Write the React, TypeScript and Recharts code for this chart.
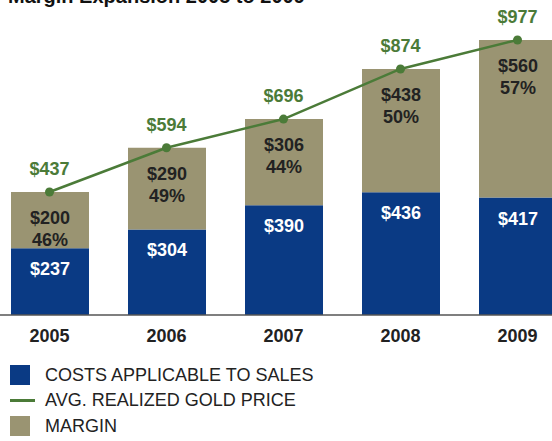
import { Bar, ComposedChart, LabelList, Line, XAxis, YAxis } from 'recharts';

const years = ['2005', '2006', '2007', '2008', '2009'];
const costs = [237, 304, 390, 436, 417];
const margins = [200, 290, 306, 438, 560];
const marginPct = [46, 49, 44, 50, 57];
const goldPrice = [437, 594, 696, 874, 977];

const BLUE = '#0a3a84';
const TAN = '#9a9472';
const GREEN = '#4b7b38';
const FONT = '"Liberation Sans", Arial, Helvetica, sans-serif';

const data = years.map((year, i) => ({
  year,
  costs: costs[i],
  margin: margins[i],
  pct: marginPct[i],
  gold: goldPrice[i],
}));

const CostLabel = (props: any) => {
  const { x, y, width, value } = props;
  return (
    <text x={x + width / 2} y={y + 27} textAnchor="middle" fill="#fff" fontSize={18} fontWeight="bold" fontFamily={FONT}>
      ${value}
    </text>
  );
};

const MarginLabel = (props: any) => {
  const { x, y, width, value, index } = props;
  return (
    <text textAnchor="middle" fill="#222" fontSize={18} fontWeight="bold" fontFamily={FONT}>
      <tspan x={x + width / 2} y={y + 32}>${value}</tspan>
      <tspan x={x + width / 2} y={y + 54}>{marginPct[index]}%</tspan>
    </text>
  );
};

const GoldLabel = (props: any) => {
  const { x, y, value } = props;
  return (
    <text x={x} y={y - 17} textAnchor="middle" fill={GREEN} fontSize={18} fontWeight="bold" fontFamily={FONT}>
      ${value}
    </text>
  );
};

const legendItems = [
  { label: 'COSTS APPLICABLE TO SALES', type: 'square', color: BLUE },
  { label: 'AVG. REALIZED GOLD PRICE', type: 'line', color: GREEN },
  { label: 'MARGIN', type: 'square', color: TAN },
];

export default function App() {
  return (
    <div style={{ position: 'absolute', left: 0, top: 0, width: 552, height: 441, overflow: 'hidden', background: '#fff', fontFamily: FONT }}>
      <div
        style={{
          position: 'absolute',
          left: 8,
          top: -14,
          fontSize: 20,
          lineHeight: '20px',
          fontWeight: 'bold',
          color: '#111',
          whiteSpace: 'nowrap',
        }}
      >
        Margin Expansion 2005 to 2009
      </div>
      <div style={{ position: 'absolute', left: -9.5, top: 0 }}>
        <ComposedChart width={585} height={345} data={data} margin={{ top: 33.5, right: 0, left: 0, bottom: 0 }}>
          <XAxis
            dataKey="year"
            height={30}
            axisLine={{ stroke: '#555', strokeWidth: 1.5 }}
            tickLine={false}
            tickSize={0}
            tickMargin={14}
            tick={{ fill: '#222', fontSize: 18, fontWeight: 'bold', fontFamily: FONT }}
          />
          <YAxis hide domain={[0, 1000]} />
          <Bar dataKey="costs" stackId="a" fill={BLUE} barSize={78} isAnimationActive={false}>
            <LabelList dataKey="costs" content={CostLabel} />
          </Bar>
          <Bar dataKey="margin" stackId="a" fill={TAN} barSize={78} isAnimationActive={false}>
            <LabelList dataKey="margin" content={MarginLabel} />
          </Bar>
          <Line
            dataKey="gold"
            stroke={GREEN}
            strokeWidth={2.5}
            dot={{ r: 4.5, fill: GREEN, stroke: GREEN, strokeWidth: 0 }}
            isAnimationActive={false}
          >
            <LabelList dataKey="gold" content={GoldLabel} />
          </Line>
        </ComposedChart>
      </div>
      {legendItems.map((item, i) => (
        <div
          key={item.label}
          style={{ position: 'absolute', left: 10, top: 365 + i * 25.5, height: 20, display: 'flex', alignItems: 'center' }}
        >
          {item.type === 'square' ? (
            <div style={{ width: 20, height: 20, background: item.color }} />
          ) : (
            <div style={{ width: 25, height: 2.5, background: item.color, marginRight: -5 }} />
          )}
          <span style={{ marginLeft: 15, fontSize: 18, color: '#222', whiteSpace: 'nowrap' }}>{item.label}</span>
        </div>
      ))}
    </div>
  );
}
